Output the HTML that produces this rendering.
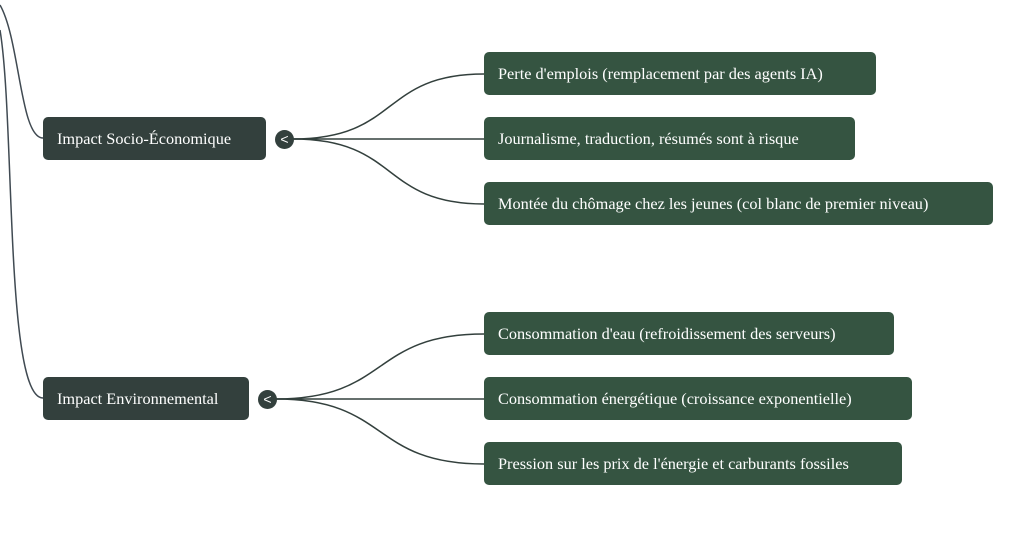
<!DOCTYPE html>
<html><head><style>
body{margin:0;width:1024px;height:534px;background:#fff;position:relative;overflow:hidden;font-family:"Liberation Serif",serif;}
.b{position:absolute;height:43px;line-height:44px;color:#fff;font-size:16.3px;padding-left:14px;box-sizing:border-box;border-radius:5px;white-space:nowrap;}
.p{background:#33403d;}
.c{background:#355441;}
.o{position:absolute;width:19px;height:19px;border-radius:50%;background:#33403d;color:#fff;font-size:14px;line-height:18px;text-align:center;font-family:"Liberation Sans",sans-serif;}
svg{position:absolute;left:0;top:0}
</style></head><body>
<svg width="1024" height="534" fill="none">
<path d="M0 5 C20 40,20 138,43 138" stroke="#404a52" stroke-width="1.5"/>
<path d="M0 30 C15 120,5 398,43 398" stroke="#404a52" stroke-width="1.5"/>
<g stroke="#33403d" stroke-width="1.5">
<path d="M293 139 C400 139,380 74,484 74"/>
<path d="M293 139 L484 139"/>
<path d="M293 139 C400 139,380 204,484 204"/>
<path d="M276 399 C390 399,370 334,484 334"/>
<path d="M276 399 L484 399"/>
<path d="M276 399 C390 399,370 464,484 464"/>
</g></svg>
<div class="b p" style="left:43px;top:117px;width:223px">Impact Socio-Économique</div>
<div class="o" style="left:275px;top:130px">&lt;</div>
<div class="b p" style="left:43px;top:377px;width:206px">Impact Environnemental</div>
<div class="o" style="left:258px;top:390px">&lt;</div>
<div class="b c" style="left:484px;top:52px;width:392px">Perte d'emplois (remplacement par des agents IA)</div>
<div class="b c" style="left:484px;top:117px;width:371px">Journalisme, traduction, résumés sont à risque</div>
<div class="b c" style="left:484px;top:182px;width:509px">Montée du chômage chez les jeunes (col blanc de premier niveau)</div>
<div class="b c" style="left:484px;top:312px;width:410px">Consommation d'eau (refroidissement des serveurs)</div>
<div class="b c" style="left:484px;top:377px;width:428px">Consommation énergétique (croissance exponentielle)</div>
<div class="b c" style="left:484px;top:442px;width:418px">Pression sur les prix de l'énergie et carburants fossiles</div>
</body></html>
